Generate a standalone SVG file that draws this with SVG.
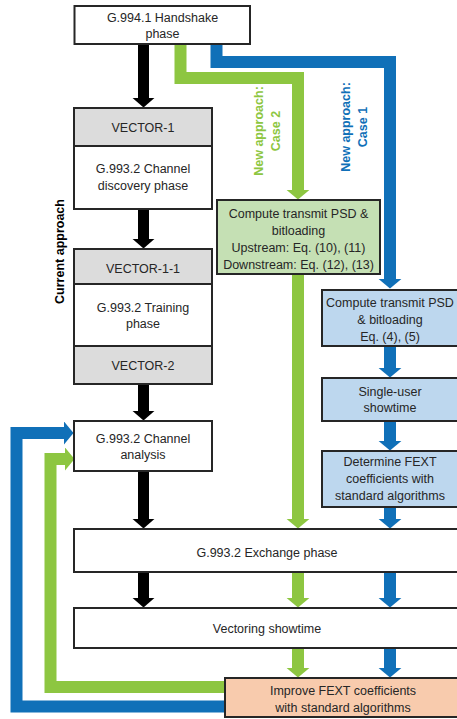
<svg xmlns="http://www.w3.org/2000/svg" width="457" height="719" viewBox="0 0 457 719">
<style>
.box{stroke:#262626;stroke-width:2;fill:#ffffff}
.gray{fill:#dcdcdc}
.gbox{fill:#c5e0b4}
.bbox{fill:#bdd7ee}
.obox{fill:#f8cbad}
text{font-family:"Liberation Sans",Arial,sans-serif;font-size:12.5px;fill:#262626;text-anchor:middle}
.lbl{font-weight:bold;font-size:12.5px}
.k{stroke:#000000;stroke-width:11;fill:none}
.g{stroke:#8dc641;stroke-width:12;fill:none;stroke-linejoin:miter}
.b{stroke:#1070b8;stroke-width:12;fill:none;stroke-linejoin:miter}
</style>
<defs>
<marker id="hk" viewBox="0 0 10 23" markerUnits="userSpaceOnUse" markerWidth="10" markerHeight="23" refX="0.5" refY="11.5" orient="auto"><path d="M0,0 L10,11.5 L0,23 Z" fill="#000000"/></marker>
<marker id="hg" viewBox="0 0 10 24" markerUnits="userSpaceOnUse" markerWidth="10" markerHeight="24" refX="0.5" refY="12" orient="auto"><path d="M0,0 L10,12 L0,24 Z" fill="#8dc641"/></marker>
<marker id="hb" viewBox="0 0 10 24" markerUnits="userSpaceOnUse" markerWidth="10" markerHeight="24" refX="0.5" refY="12" orient="auto"><path d="M0,0 L10,12 L0,24 Z" fill="#1070b8"/></marker>
</defs>
<rect width="457" height="719" fill="#ffffff"/>
<g id="connectors">
<path class="k" d="M143.5,44 V98" marker-end="url(#hk)"/>
<path class="k" d="M143.5,209 V239" marker-end="url(#hk)"/>
<path class="k" d="M143.5,384 V411" marker-end="url(#hk)"/>
<path class="k" d="M143.5,471 V519" marker-end="url(#hk)"/>
<path class="k" d="M143.5,572 V598" marker-end="url(#hk)"/>
<path class="g" d="M180.5,44 V78 H298 V190" marker-end="url(#hg)"/>
<path class="g" d="M298,274 V519" marker-end="url(#hg)"/>
<path class="g" d="M298,572 V598" marker-end="url(#hg)"/>
<path class="g" d="M298,648 V668" marker-end="url(#hg)"/>
<path class="g" d="M226,687 H50.5 V459 H65" marker-end="url(#hg)"/>
<path class="b" d="M216.5,44 V62 H390 V279" marker-end="url(#hb)"/>
<path class="b" d="M390,346 V368" marker-end="url(#hb)"/>
<path class="b" d="M390,421 V441" marker-end="url(#hb)"/>
<path class="b" d="M390,507 V519" marker-end="url(#hb)"/>
<path class="b" d="M390,572 V598" marker-end="url(#hb)"/>
<path class="b" d="M390,648 V668" marker-end="url(#hb)"/>
<path class="b" d="M226,706.5 H16.5 V433 H64" marker-end="url(#hb)"/>
</g>
<g id="handshake"><rect class="box" x="74.5" y="6" width="175.5" height="38"/><text x="162.5" y="21.5">G.994.1 Handshake</text><text x="162.5" y="38">phase</text></g>
<g id="vector1"><rect class="box gray" x="74" y="108" width="138" height="38"/><text x="143" y="131.5">VECTOR-1</text></g>
<g id="discovery"><rect class="box" x="74" y="146" width="138" height="63"/><text x="143" y="172.5">G.993.2 Channel</text><text x="143" y="190">discovery phase</text></g>
<g id="vector11"><rect class="box gray" x="74" y="249" width="138" height="35"/><text x="143" y="272.5">VECTOR-1-1</text></g>
<g id="training"><rect class="box" x="74" y="284" width="138" height="62"/><text x="143" y="311.5">G.993.2 Training</text><text x="143" y="327.5">phase</text></g>
<g id="vector2"><rect class="box gray" x="74" y="346" width="138" height="38"/><text x="143" y="369.5">VECTOR-2</text></g>
<g id="analysis"><rect class="box" x="74" y="421" width="138" height="50"/><text x="143" y="442.5">G.993.2 Channel</text><text x="143" y="458.5">analysis</text></g>
<g id="case2-compute"><rect class="box gbox" x="217" y="200" width="163" height="74"/><text x="298.5" y="217.5">Compute transmit PSD &amp;</text><text x="298.5" y="234.5">bitloading</text><text x="298.5" y="251.5">Upstream: Eq. (10), (11)</text><text x="298.5" y="268.5">Downstream: Eq. (12), (13)</text></g>
<g id="case1-compute"><rect class="box bbox" x="322" y="290" width="150" height="56"/><text x="390" y="306.5">Compute transmit PSD</text><text x="390" y="323.5">&amp; bitloading</text><text x="390" y="340.5">Eq. (4), (5)</text></g>
<g id="single-user"><rect class="box bbox" x="322" y="378" width="150" height="43"/><text x="390" y="395.5">Single-user</text><text x="390" y="411.5">showtime</text></g>
<g id="determine"><rect class="box bbox" x="322" y="451" width="150" height="56"/><text x="390" y="465.5">Determine FEXT</text><text x="390" y="482.5">coefficients with</text><text x="390" y="499.5">standard algorithms</text></g>
<g id="exchange"><rect class="box" x="74" y="529" width="400" height="43"/><text x="267" y="556.5">G.993.2 Exchange phase</text></g>
<g id="vectoring"><rect class="box" x="74" y="608" width="400" height="40"/><text x="267" y="632.5">Vectoring showtime</text></g>
<g id="improve"><rect class="box obox" x="225" y="678" width="250" height="39"/><text x="343" y="694.5">Improve FEXT coefficients</text><text x="343" y="711.5">with standard algorithms</text></g>
<g id="labels">
<text class="lbl" transform="translate(64,251.5) rotate(-90)" style="fill:#000000">Current approach</text>
<text class="lbl" transform="translate(263,131) rotate(-90)" style="fill:#8dc641">New approach:</text>
<text class="lbl" transform="translate(280,131) rotate(-90)" style="fill:#8dc641">Case 2</text>
<text class="lbl" transform="translate(350,127) rotate(-90)" style="fill:#1070b8">New approach:</text>
<text class="lbl" transform="translate(367,127) rotate(-90)" style="fill:#1070b8">Case 1</text>
</g>
</svg>
